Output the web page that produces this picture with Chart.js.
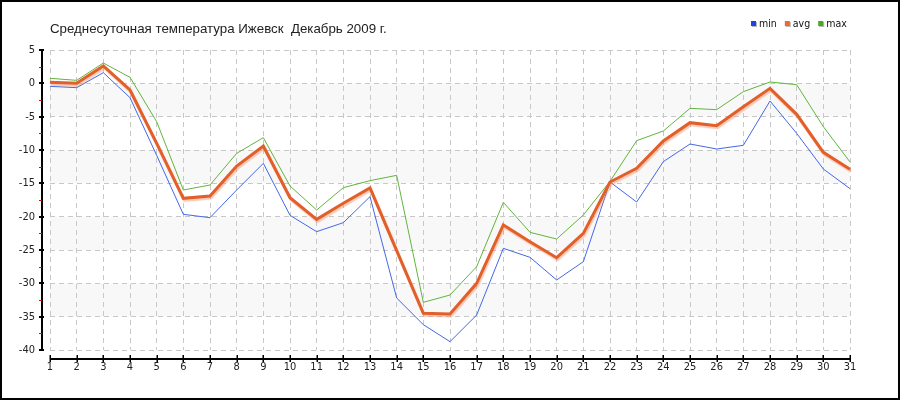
<!DOCTYPE html>
<html>
<head>
<meta charset="utf-8">
<script src="https://cdn.jsdelivr.net/npm/chart.js@4/dist/chart.umd.min.js"></script>
<style>
    html, body { margin: 0; padding: 0; background: #fff; }
    #wrap { width: 900px; height: 400px; position: relative; }
</style>
</head>
<body>
<div id="wrap"><canvas id="tempChart" width="900" height="400"></canvas></div>
<script>
'use strict';

// Дни месяца
const days = ['1', '2', '3', '4', '5', '6', '7', '8', '9', '10', '11', '12', '13', '14', '15', '16',
    '17', '18', '19', '20', '21', '22', '23', '24', '25', '26', '27', '28', '29', '30', '31'];

// Температуры, °C
const minTemp = [-0.45, -0.65, 1.6, -2.15, -10.8, -19.65, -20.15, -16.0, -12.0, -19.8, -22.25, -20.9, -17.0, -32.2, -36.2, -38.75,
    -34.75, -24.75, -26.1, -29.5, -26.75, -14.8, -17.8, -11.75, -9.1, -9.85, -9.3, -2.65, -7.5, -12.85, -15.8];
const avgTemp = [0.15, 0, 2.6, -1.0, -9.0, -17.25, -16.9, -12.4, -9.4, -17.15, -20.4, -18.0, -15.7, -25.1, -34.5, -34.6,
    -30.0, -21.25, -23.75, -26.15, -22.5, -14.8, -12.75, -8.65, -5.9, -6.35, -3.5, -0.75, -4.65, -10.35, -12.9];
const maxTemp = [0.75, 0.45, 3.05, 0.9, -5.75, -16.0, -15.25, -10.5, -8.15, -15.4, -19.0, -15.65, -14.6, -13.8, -32.85, -31.75,
    -27.5, -17.85, -22.35, -23.35, -19.75, -14.7, -8.6, -7.15, -3.75, -3.95, -1.25, 0.2, -0.2, -6.5, -11.8];

const seriesNames = ['min', 'avg', 'max'];

// Серые полосы фона (от, до)
const bandsFrom = [0, -10, -20, -30];
const bandsTo = [-5, -15, -25, -35];

const titleText = 'Среднесуточная температура Ижевск  Декабрь 2009 г.';

const LINE_COLORS = ['#4468e6', '#e35f29', '#62b43c'];
const LEGEND_COLORS = ['#1e44e6', '#ec6a34', '#4aa822'];
const TICK_FONT = { family: "'Liberation Sans Narrow', 'DejaVu Sans Condensed', 'Liberation Sans', sans-serif", size: 11 };
const GRID_DASH = [5, 4];

const decorPlugin = {
    id: 'decor',
    beforeDraw(chart) {
        const ctx = chart.ctx;
        const area = chart.chartArea;
        const y = chart.scales.y;
        ctx.save();
        ctx.fillStyle = '#fff';
        ctx.fillRect(0, 0, chart.width, chart.height);
        ctx.fillStyle = '#f8f8f8';
        for (let i = 0; i < bandsFrom.length; i++) {
            const y1 = y.getPixelForValue(bandsFrom[i]);
            const y2 = y.getPixelForValue(bandsTo[i]);
            ctx.fillRect(area.left, y1, area.right - area.left, y2 - y1);
        }
        ctx.restore();
    },
    beforeDatasetDraw(chart, args) {
        if (args.index !== 1) return;
        const ctx = chart.ctx;
        ctx.save();
        ctx.shadowColor = 'rgba(238, 140, 100, 0.45)';
        ctx.shadowOffsetX = 1;
        ctx.shadowOffsetY = 2;
        ctx.shadowBlur = 1;
    },
    afterDatasetDraw(chart, args) {
        if (args.index !== 1) return;
        chart.ctx.restore();
    },
    afterDraw(chart) {
        const ctx = chart.ctx;
        const area = chart.chartArea;
        const xs = chart.scales.x;
        const ys = chart.scales.y;
        ctx.save();

        // ось Y
        const axX = area.left - 9;
        ctx.fillStyle = '#000';
        ctx.fillRect(axX, area.top, 2, area.bottom - area.top + 1);
        const vals = ys.ticks.map(t => t.value);
        vals.forEach(v => {
            const py = Math.round(ys.getPixelForValue(v));
            ctx.fillStyle = '#000';
            ctx.fillRect(axX - 2, py - 1, 5, 2);
        });
        for (let i = 0; i < vals.length - 1; i++) {
            const py = Math.round(ys.getPixelForValue((vals[i] + vals[i + 1]) / 2));
            ctx.fillStyle = '#e00000';
            ctx.fillRect(axX - 2, py, 3, 1);
        }

        // ось X
        const axY = area.bottom + 8;
        ctx.fillStyle = '#000';
        ctx.fillRect(area.left, axY, area.right - area.left + 1, 2);
        xs.ticks.forEach((t, i) => {
            const px = Math.round(xs.getPixelForTick(i));
            ctx.fillRect(px - 0.5, axY - 3, 1.5, 7);
        });

        // рамка
        ctx.strokeStyle = '#000';
        ctx.lineWidth = 2;
        ctx.strokeRect(1, 1, chart.width - 2, chart.height - 2);

        // заголовок
        ctx.fillStyle = '#222';
        ctx.font = "13.3px 'Liberation Sans', Arial, sans-serif";
        ctx.textBaseline = 'alphabetic';
        ctx.textAlign = 'left';
        ctx.fillText(titleText, 50, 33);

        // легенда
        ctx.font = "10.5px 'Liberation Sans Narrow', 'DejaVu Sans Condensed', sans-serif";
        ctx.textBaseline = 'middle';
        let lx = 751;
        chart.data.datasets.forEach((ds, i) => {
            ctx.fillStyle = '#b8b8b8';
            ctx.fillRect(lx + 1, 22, 5, 5);
            ctx.fillStyle = LEGEND_COLORS[i];
            ctx.fillRect(lx, 21, 5, 5);
            ctx.fillStyle = '#111';
            ctx.fillText(ds.label, lx + 8, 24);
            lx += 8 + ctx.measureText(ds.label).width + 8;
        });
        ctx.restore();
    }
};

new Chart(document.getElementById('tempChart'), {
    type: 'line',
    data: {
        labels: days,
        datasets: [
            { label: seriesNames[0], data: minTemp, borderColor: LINE_COLORS[0], borderWidth: 1, order: 1 },
            { label: seriesNames[1], data: avgTemp, borderColor: LINE_COLORS[1], borderWidth: 3, order: 0 },
            { label: seriesNames[2], data: maxTemp, borderColor: LINE_COLORS[2], borderWidth: 1, order: 2 }
        ]
    },
    options: {
        responsive: false,
        animation: false,
        devicePixelRatio: 1,
        layout: { padding: { top: 50, right: 50, left: 0, bottom: 0 } },
        elements: {
            point: { radius: 0 },
            line: { tension: 0, fill: false }
        },
        scales: {
            x: {
                type: 'category',
                offset: false,
                border: { display: false, dash: GRID_DASH },
                grid: { color: '#c8c8c8', drawTicks: false },
                ticks: { color: '#222', font: TICK_FONT, padding: 11, maxRotation: 0, autoSkip: false },
                afterFit(scale) { scale.height = 50; }
            },
            y: {
                min: -40,
                max: 5,
                border: { display: false, dash: GRID_DASH },
                grid: { color: '#c8c8c8', drawTicks: false },
                ticks: { stepSize: 5, color: '#222', font: TICK_FONT, padding: 15 },
                afterFit(scale) { scale.width = 50; }
            }
        },
        plugins: {
            legend: { display: false },
            title: { display: false },
            tooltip: { enabled: false }
        }
    },
    plugins: [decorPlugin]
});
</script>
</body>
</html>
